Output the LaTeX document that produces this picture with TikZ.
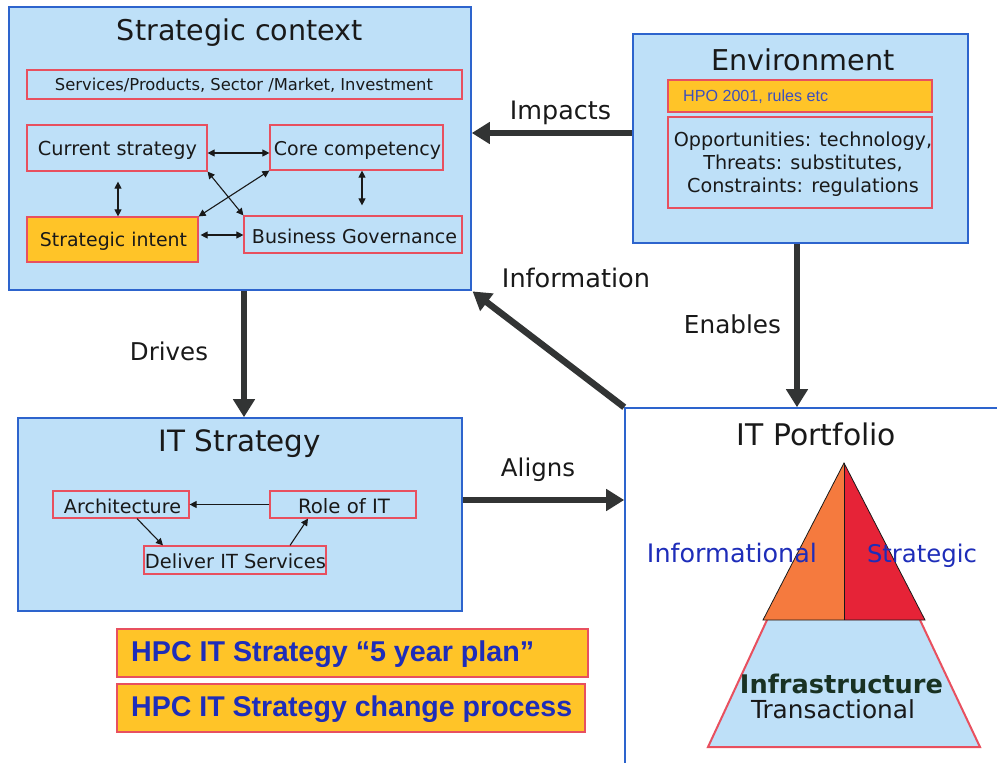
\documentclass[tikz,border=0pt]{standalone}
\usepackage{fontspec}
\setmainfont{DejaVu Sans}
\newfontfamily\arialf{Liberation Sans}
\usetikzlibrary{arrows.meta}
\definecolor{lblue}{RGB}{190,224,248}
\definecolor{bblue}{RGB}{45,100,205}
\definecolor{rbord}{RGB}{232,80,95}
\definecolor{orng}{RGB}{255,196,40}
\definecolor{darr}{RGB}{50,52,52}
\definecolor{txtblue}{RGB}{30,45,185}
\definecolor{hpoblue}{RGB}{60,80,190}
\definecolor{tri1}{RGB}{245,122,62}
\definecolor{tri2}{RGB}{230,35,55}
\definecolor{txt}{RGB}{25,25,25}
\newcommand\fw[2]{\resizebox{#1pt}{!}{#2}}
\begin{document}
\begin{tikzpicture}[x=1pt,y=-1pt,
  bigbox/.style={draw=bblue,line width=1.6pt,fill=lblue,inner sep=0pt},
  inbox/.style={draw=rbord,line width=1.2pt,inner sep=0pt},
  obox/.style={draw=rbord,line width=1.2pt,fill=orng,inner sep=0pt},
  lbl/.style={inner sep=0pt,text=txt},
  bigarrow/.style={draw=darr,line width=6.5pt,-{Triangle[length=18pt,width=21pt]}},
  dbl/.style={draw=txt,line width=1.1pt,{Triangle[length=7pt,width=7pt]}-{Triangle[length=7pt,width=7pt]}},
  sgl/.style={draw=txt,line width=1.1pt,-{Triangle[length=7pt,width=7pt]}}]
\useasboundingbox (0,0) rectangle (997,763);
\clip (0,0) rectangle (997,763);
\fill[white] (0,0) rectangle (997,763);

% IT Portfolio box (open at right and bottom)
\node[draw=bblue,line width=1.6pt,fill=white,inner sep=0pt,minimum width=385pt,minimum height=367pt] (itp) at (817.5,591.5) {};

% Strategic context
\node[bigbox,minimum width=462pt,minimum height=283pt] (sc) at (240,148.5) {};
\node[lbl] (sct) at (240,33) {\fw{246}{Strategic context}};
\node[inbox,minimum width=435pt,minimum height=29pt] (svc) at (244.5,84.5) {};
\node[lbl] (svct) at (244,85) {\fw{378}{Services/Products, Sector /Market, Investment}};
\node[inbox,minimum width=180pt,minimum height=46pt] (cur) at (117,148) {};
\node[lbl] (curt) at (117.5,150) {\fw{159}{Current strategy}};
\node[inbox,minimum width=173pt,minimum height=45pt] (core) at (356.5,147.5) {};
\node[lbl] (coret) at (357.5,150) {\fw{167}{Core competency}};
\node[obox,minimum width=171pt,minimum height=45pt] (intent) at (112.5,239.5) {};
\node[lbl] (intentt) at (113.5,241) {\fw{147}{Strategic intent}};
\node[inbox,minimum width=218pt,minimum height=37pt] (bg) at (353,234.5) {};
\node[lbl] (bgt) at (354.5,236) {\fw{205}{Business Governance}};

\draw[dbl] ([yshift=-5pt]cur.east) -- ([yshift=-5pt]cur.east -| core.west);
\draw[dbl,shorten <=10pt] ([xshift=1pt]cur.south) -- ([xshift=1pt]cur.south |- intent.north);
\draw[dbl,shorten >=10pt] ([xshift=5.5pt]core.south) -- ([xshift=5.5pt]core.south |- bg.north);
\draw[dbl] (cur.south east) -- (bg.north west);
\draw[dbl] (core.south west) -- (intent.north east);
\coordinate (ib) at ([yshift=4.5pt,xshift=2pt]intent.east);
\draw[dbl] (ib) -- (ib -| bg.west);

% Environment
\node[bigbox,minimum width=335pt,minimum height=209pt] (env) at (800.5,138.5) {};
\node[lbl] (envt) at (803,60) {\fw{183}{Environment}};
\node[obox,minimum width=264pt,minimum height=32pt] (hpo) at (800,96) {};
\node[lbl,anchor=west,text=hpoblue] (hpot) at (683,97) {\fw{145}{\arialf HPO 2001, rules etc}};
\node[inbox,minimum width=264pt,minimum height=91pt] (opp) at (800,162.5) {};
\node[lbl,align=center,font=\fontsize{19.2}{23}\selectfont] (oppt) at (803,164) {Opportunities: technology,\\Threats: substitutes,\\Constraints: regulations};

% IT Strategy
\node[bigbox,minimum width=444pt,minimum height=193pt] (its) at (240,514.5) {};
\node[lbl] (itst) at (240,444) {\fw{162}{IT Strategy}};
\node[inbox,minimum width=136pt,minimum height=27pt] (arch) at (121,504.5) {};
\node[lbl] (archt) at (122.5,506) {\fw{117}{Architecture}};
\node[inbox,minimum width=146pt,minimum height=27pt] (role) at (343,504.5) {};
\node[lbl] (rolet) at (344,506) {\fw{92}{Role of IT}};
\node[inbox,minimum width=182pt,minimum height=28pt] (del) at (235,560) {};
\node[lbl] (delt) at (235.5,561) {\fw{181}{Deliver IT Services}};
\draw[sgl] (role.west) -- (arch.east);
\draw[sgl] ([xshift=16pt]arch.south) -- ([xshift=-72pt]del.north);
\draw[sgl] ([xshift=55pt]del.north) -- ([xshift=-35pt]role.south);

% HPC boxes
\node[obox,minimum width=471pt,minimum height=48pt] (hpc1) at (352.5,653) {};
\node[lbl,anchor=west,text=txtblue] (hpc1t) at (131,654) {\fw{403}{\arialf\bfseries HPC IT Strategy “5 year plan”}};
\node[obox,minimum width=468pt,minimum height=48pt] (hpc2) at (351,708) {};
\node[lbl,anchor=west,text=txtblue] (hpc2t) at (131,709) {\fw{441}{\arialf\bfseries HPC IT Strategy change process}};

% IT Portfolio contents
\node[lbl] (itpt) at (816.5,434) {\fw{159}{IT Portfolio}};
\fill[lblue] (767,620) -- (920,620) -- (980,747) -- (708,747) -- cycle;
\draw[rbord,line width=2pt] (767,620) -- (708,747) -- (980,747) -- (920,620);
\fill[tri1] (844,463) -- (763,620) -- (844,620) -- cycle;
\fill[tri2] (844,463) -- (925,620) -- (844,620) -- cycle;
\draw[txt,line width=0.8pt] (844,463) -- (763,620) -- (925,620) -- cycle;
\draw[txt,line width=0.6pt] (844,463) -- (844,620);
\node[lbl,text=txtblue] (info) at (732,553) {\fw{170}{Informational}};
\node[lbl,text=txtblue] (strat) at (922,555.5) {\fw{110}{Strategic}};
\node[lbl,text={rgb,255:red,25;green,50;blue,35}] (infra) at (841.5,684) {\fw{203}{\bfseries Infrastructure}};
\node[lbl] (trans) at (833,709) {\fw{164}{Transactional}};

% Main connectors
\coordinate (imp) at ([yshift=5.5pt]env.west);
\draw[bigarrow] (imp) -- (imp -| sc.east);
\node[lbl] (impt) at (560.5,113) {\fw{101}{Impacts}};
\coordinate (en) at ([xshift=-3.5pt]env.south);
\draw[bigarrow] (en) -- (en |- itp.north);
\node[lbl] (ent) at (732.5,324) {\fw{97}{Enables}};
\draw[bigarrow,shorten >=1pt] (itp.north west) -- (sc.south east);
\node[lbl] (inft) at (576,278) {\fw{148}{Information}};
\coordinate (dr) at ([xshift=4pt]sc.south);
\draw[bigarrow] (dr) -- (dr |- its.north);
\node[lbl] (drt) at (169,351) {\fw{78}{Drives}};
\coordinate (al) at ([yshift=14.5pt]its.east);
\draw[bigarrow] (al) -- (al -| itp.west);
\node[lbl] (alt) at (538,470) {\fw{74}{Aligns}};
\end{tikzpicture}
\end{document}
